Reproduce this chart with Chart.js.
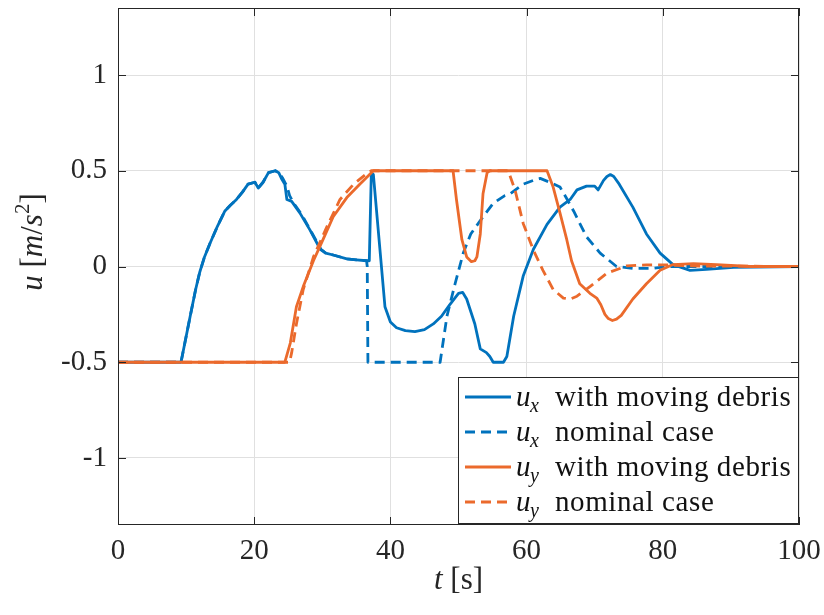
<!DOCTYPE html>
<html><head><meta charset="utf-8">
<script src="https://cdn.jsdelivr.net/npm/chart.js@4.4.1/dist/chart.umd.min.js"></script>
<style>html,body{margin:0;padding:0;background:#fff;}canvas{display:block;}</style>
</head><body>
<canvas id="c" width="824" height="615"></canvas>
<script>
// ---------- data (t [s], u [m/s^2]) ----------
const xTicks = [0, 20, 40, 60, 80, 100];
const xTickLabels = ['0', '20', '40', '60', '80', '100'];
const yTicks = [-1, -0.5, 0, 0.5, 1];
const yTickLabels = ['-1', '-0.5', '0', '0.5', '1'];

const uxDebris = [[0,-0.5],[9.25,-0.5],[10.6,-0.26],[11.4,-0.12],[12.0,-0.03],[12.7,0.05],[13.5,0.12],[14.6,0.21],[15.7,0.29],[16.5,0.32],[17.4,0.35],[18.3,0.39],[19.1,0.43],[20.1,0.44],[20.6,0.41],[21.3,0.44],[22.1,0.49],[23.1,0.50],[23.6,0.49],[24.0,0.46],[24.5,0.43],[24.8,0.35],[25.5,0.34],[26.7,0.28],[28.2,0.19],[29.7,0.09],[30.5,0.07],[31.6,0.06],[33.6,0.04],[35.0,0.035],[36.5,0.03],[36.9,0.03],[37.2,0.49],[37.5,0.48],[39.2,-0.21],[40.0,-0.29],[40.9,-0.32],[42.2,-0.335],[43.6,-0.34],[45.0,-0.33],[46.3,-0.30],[47.5,-0.26],[48.7,-0.20],[50.0,-0.14],[50.6,-0.135],[51.2,-0.17],[52.4,-0.30],[53.2,-0.43],[54.1,-0.45],[54.6,-0.47],[55.1,-0.50],[56.6,-0.50],[57.1,-0.47],[58.1,-0.26],[59.5,-0.05],[61.0,0.09],[63.0,0.22],[64.9,0.31],[66.4,0.35],[67.4,0.40],[68.8,0.42],[70.0,0.42],[70.5,0.40],[71.3,0.45],[71.8,0.47],[72.3,0.48],[72.8,0.47],[73.6,0.43],[75.6,0.31],[77.6,0.17],[79.6,0.07],[81.5,0.01],[84.0,-0.02],[86.4,-0.015],[90.4,-0.005],[100,0]];

const uxNominal = [[0,-0.5],[9.25,-0.5],[10.6,-0.26],[11.4,-0.12],[12.0,-0.03],[12.7,0.05],[13.5,0.12],[14.6,0.21],[15.7,0.29],[16.5,0.32],[17.4,0.35],[18.3,0.39],[19.1,0.43],[20.1,0.44],[20.6,0.41],[21.3,0.44],[22.1,0.49],[23.1,0.50],[23.6,0.49],[24.2,0.46],[24.8,0.42],[25.2,0.37],[25.8,0.33],[27.0,0.27],[28.4,0.18],[29.8,0.09],[30.5,0.07],[31.6,0.06],[33.6,0.04],[35.0,0.035],[36.5,0.03],[36.6,0.0],[36.7,-0.5],[47.3,-0.5],[48.3,-0.26],[49.5,-0.09],[50.7,0.07],[51.8,0.17],[53.2,0.24],[55.1,0.33],[56.8,0.37],[57.6,0.38],[59.5,0.43],[61.0,0.45],[62.0,0.46],[63.4,0.44],[64.9,0.415],[65.8,0.36],[66.9,0.29],[68.8,0.155],[70.8,0.07],[73.2,0.0],[75.6,-0.01],[78.6,-0.01],[80.6,0],[100,0]];

const uyDebris = [[0,-0.5],[24.5,-0.5],[25.3,-0.40],[26.2,-0.21],[27.2,-0.105],[28.7,0.03],[30.1,0.14],[31.6,0.26],[33.6,0.36],[35.5,0.43],[36.5,0.465],[37.2,0.49],[37.5,0.5],[49.2,0.5],[49.7,0.35],[50.5,0.14],[51.2,0.05],[51.9,0.025],[52.4,0.03],[52.7,0.05],[53.2,0.17],[53.6,0.38],[54.2,0.49],[54.6,0.5],[63.0,0.5],[63.9,0.415],[64.9,0.28],[65.9,0.14],[66.6,0.03],[67.8,-0.09],[69.3,-0.14],[70.3,-0.165],[70.9,-0.20],[71.5,-0.25],[72.0,-0.272],[72.6,-0.282],[73.2,-0.275],[73.9,-0.255],[75.6,-0.17],[77.6,-0.09],[79.6,-0.02],[81.5,0.01],[84.5,0.015],[87.9,0.01],[92.8,0],[100,0]];

const uyNominal = [[0,-0.5],[25.2,-0.5],[25.5,-0.45],[26.2,-0.30],[27.2,-0.12],[28.7,0.05],[30.7,0.21],[32.6,0.35],[34.6,0.43],[36.5,0.485],[37.2,0.5],[57.3,0.5],[58.3,0.40],[59.5,0.225],[61.0,0.085],[62.4,-0.02],[63.9,-0.12],[65.4,-0.165],[66.4,-0.17],[67.4,-0.155],[69.3,-0.105],[71.8,-0.035],[74.7,0.003],[77.6,0.008],[80.6,0.008],[84.0,0.003],[100,0]];

const legendBase = ['u', 'u', 'u', 'u'];
const legendSub = ['x', 'x', 'y', 'y'];
const legendRest = ['with moving debris', 'nominal case', 'with moving debris', 'nominal case'];

// ---------- styling ----------
const BLUE = '#0072BD';
const ORANGE = '#EB6A2C';
const INK = '#262626';
const FAM = "'Liberation Serif', 'DejaVu Serif', serif";
const DASH = [10, 6];
const LW = 2.8;

function pts(arr) { return arr.map(p => ({x: p[0], y: p[1]})); }

const datasets = [
  {data: pts(uxDebris), borderColor: BLUE, borderDash: [], order: 4},
  {data: pts(uxNominal), borderColor: BLUE, borderDash: DASH, order: 3},
  {data: pts(uyDebris), borderColor: ORANGE, borderDash: [], order: 2},
  {data: pts(uyNominal), borderColor: ORANGE, borderDash: DASH, order: 1}
].map(d => Object.assign(d, {borderWidth: LW, pointRadius: 0, tension: 0, fill: false, borderJoinStyle: 'round', borderCapStyle: 'butt'}));

function drawRich(ctx, segs, x, y, align) {
  let w = 0;
  segs.forEach(s => { ctx.font = (s.italic ? 'italic ' : '') + s.size + 'px ' + FAM; s.w = ctx.measureText(s.text).width; w += s.w; });
  let cx = align === 'center' ? x - w / 2 : x;
  segs.forEach(s => {
    ctx.font = (s.italic ? 'italic ' : '') + s.size + 'px ' + FAM;
    ctx.fillText(s.text, cx, y + (s.dy || 0));
    cx += s.w;
  });
}

const decor = {
  id: 'decor',
  afterDraw(chart) {
    const ctx = chart.ctx, a = chart.chartArea;
    const xs = chart.scales.x, ys = chart.scales.y;
    ctx.save();
    // box
    ctx.strokeStyle = INK; ctx.lineWidth = 1;
    ctx.strokeRect(Math.round(a.left) + 0.5, Math.round(a.top) + 0.5, Math.round(a.right - a.left) - 1, Math.round(a.bottom - a.top) - 1);
    // inner ticks
    const TL = 8;
    ctx.beginPath();
    xTicks.forEach(v => {
      const px = Math.round(xs.getPixelForValue(v)) + 0.5;
      ctx.moveTo(px, a.bottom); ctx.lineTo(px, a.bottom - TL);
      ctx.moveTo(px, a.top); ctx.lineTo(px, a.top + TL);
    });
    yTicks.forEach(v => {
      const py = Math.round(ys.getPixelForValue(v)) + 0.5;
      ctx.moveTo(a.left, py); ctx.lineTo(a.left + TL, py);
      ctx.moveTo(a.right, py); ctx.lineTo(a.right - TL, py);
    });
    ctx.stroke();

    // axis titles
    ctx.fillStyle = INK; ctx.textBaseline = 'alphabetic';
    drawRich(ctx, [
      {text: 't', italic: true, size: 31},
      {text: ' [s]', italic: false, size: 31}
    ], (a.left + a.right) / 2, 589, 'center');
    ctx.save();
    ctx.translate(42, 242);
    ctx.rotate(-Math.PI / 2);
    drawRich(ctx, [
      {text: 'u', italic: true, size: 31},
      {text: ' [', italic: false, size: 31},
      {text: 'm', italic: true, size: 31},
      {text: '/', italic: false, size: 31},
      {text: 's', italic: true, size: 31},
      {text: '2', italic: false, size: 21, dy: -13},
      {text: ']', italic: false, size: 31}
    ], 0, 0, 'center');
    ctx.restore();

    // legend
    const L = 458.5, T = 377.5, R = 798.5, B = 523.5;
    ctx.fillStyle = '#fff';
    ctx.fillRect(L, T, R - L, B - T);
    ctx.strokeStyle = INK; ctx.lineWidth = 1;
    ctx.strokeRect(L, T, R - L, B - T);
    const rows = [397, 432, 467, 502];
    chart.data.datasets.forEach((d, i) => {
      const ry = rows[i];
      ctx.save();
      ctx.strokeStyle = d.borderColor; ctx.lineWidth = LW;
      ctx.setLineDash(d.borderDash || []);
      ctx.beginPath(); ctx.moveTo(465, ry); ctx.lineTo(511, ry); ctx.stroke();
      ctx.restore();
      ctx.fillStyle = '#111';
      ctx.font = 'italic 29px ' + FAM;
      ctx.fillText(legendBase[i], 516, ry + 9);
      ctx.font = 'italic 20px ' + FAM;
      ctx.fillText(legendSub[i], 530, ry + 15);
      ctx.font = '29px ' + FAM;
      if ('letterSpacing' in ctx) ctx.letterSpacing = '0.6px';
      ctx.fillText(legendRest[i], 555, ry + 9);
      if ('letterSpacing' in ctx) ctx.letterSpacing = '0px';
    });
    ctx.restore();
  }
};

new Chart(document.getElementById('c'), {
  type: 'line',
  data: {datasets},
  plugins: [decor],
  options: {
    responsive: false,
    animation: false,
    devicePixelRatio: 1,
    layout: {padding: {left: 0, top: 8, right: 25, bottom: 0}},
    plugins: {legend: {display: false}, tooltip: {enabled: false}},
    scales: {
      x: {
        type: 'linear', min: 0, max: 100,
        afterBuildTicks: s => { s.ticks = xTicks.map(v => ({value: v})); },
        afterFit: s => { s.height = 90; s.paddingLeft = 0; s.paddingRight = 0; },
        ticks: {
          padding: 9, color: INK, font: {family: FAM, size: 29}, maxRotation: 0,
          callback: v => { const i = xTicks.indexOf(v); return i >= 0 ? xTickLabels[i] : ''; }
        },
        grid: {color: '#e0e0e0', lineWidth: 1, drawTicks: false},
        border: {display: false}
      },
      y: {
        type: 'linear', min: -1.35, max: 1.35,
        afterBuildTicks: s => { s.ticks = yTicks.map(v => ({value: v})); },
        afterFit: s => { s.width = 118; s.paddingTop = 0; s.paddingBottom = 0; },
        ticks: {
          padding: 11, color: INK, font: {family: FAM, size: 29},
          callback: v => { const i = yTicks.indexOf(v); return i >= 0 ? yTickLabels[i] : ''; }
        },
        grid: {color: '#e0e0e0', lineWidth: 1, drawTicks: false},
        border: {display: false}
      }
    }
  }
});
</script>
</body></html>
